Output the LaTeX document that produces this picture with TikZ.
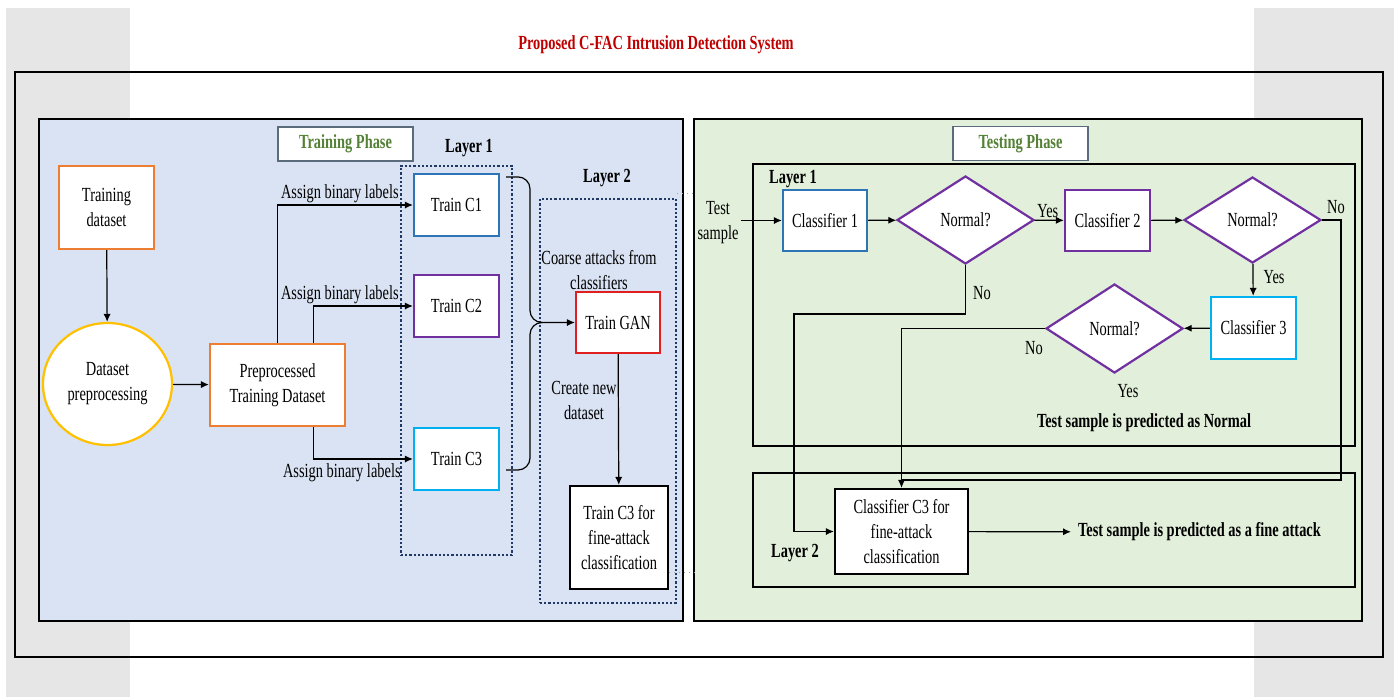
\documentclass[tikz,border=0pt]{standalone}
\usepackage{fontspec}
\setmainfont{Liberation Serif}[FakeStretch=0.72]
\usetikzlibrary{arrows.meta,positioning,shapes.geometric}
\definecolor{cgray}{HTML}{E6E6E6}
\definecolor{cblue}{HTML}{DAE3F3}
\definecolor{cgreen}{HTML}{E2EFDA}
\definecolor{ctitle}{HTML}{C00000}
\definecolor{cgrn}{HTML}{538135}
\definecolor{cphb}{HTML}{5B6B7B}
\definecolor{corange}{HTML}{ED7D31}
\definecolor{cyel}{HTML}{FFC000}
\definecolor{cbl}{HTML}{2E75B6}
\definecolor{cpur}{HTML}{7030A0}
\definecolor{ccyan}{HTML}{00B0F0}
\definecolor{cred}{HTML}{E02020}
\definecolor{cdot}{HTML}{1F3864}
\definecolor{cgl}{HTML}{A0A0A0}

\begin{document}
\begin{tikzpicture}[x=0.5pt,y=-0.5pt,
font=\fontsize{10}{12.5}\selectfont,
box/.style={draw,fill=white,line width=1.1pt,align=center,inner sep=1pt},
arr/.style={-{Latex[length=4pt,width=3.6pt]},line width=0.6pt},
lab/.style={align=center,inner sep=1pt},
dia/.style={diamond,draw=cpur,fill=white,line width=1.1pt,inner sep=0pt,minimum width=68.5pt},
grp/.style={draw=cdot,densely dotted,line width=1.1pt},
frm/.style={draw,line width=1.3pt},
phase/.style={draw=cphb,fill=white,line width=0.6pt,font=\bfseries,text=cgrn,minimum width=67.5pt,minimum height=17pt},
lay/.style={font=\bfseries}]
\useasboundingbox (0,0) rectangle (1394,697);
% page and panels
\fill[cgray] (6,8) rectangle (130,697);
\fill[cgray] (1254,8) rectangle (1394,697);
\draw[line width=1.3pt] (15,72) rectangle (1383,657);
\node[font=\bfseries,text=ctitle] (title) at (656,45) {Proposed C-FAC Intrusion Detection System};
\draw[line width=1.1pt,fill=cblue] (39,119) rectangle (683,621);
\draw[line width=1.1pt,fill=cgreen] (694,119) rectangle (1362,621);

% training phase
\node[phase] (trph) at (345.5,144) {Training Phase};
\node[box,draw=corange,minimum width=47.5pt,minimum height=41.5pt] (tdata) at (106.5,207.5) {Training\\dataset};
\node[box,ellipse,draw=cyel,minimum width=64.5pt,minimum height=61pt] (prep) at (107.5,384) {Dataset\\preprocessing};
\node[box,draw=corange,minimum width=67.5pt,minimum height=41pt] (ptd) at (277.5,385) {Preprocessed\\Training Dataset};
\node[grp,minimum width=55.5pt,minimum height=194.5pt] (l1grp) at (456.5,360.5) {};
\node[lay] (l1lab) at (469,148) {Layer 1};
\node[box,draw=cbl,minimum width=42.5pt,minimum height=31pt] (c1) at (456.5,205) {Train C1};
\node[box,draw=cpur,minimum width=42.5pt,minimum height=31pt] (c2) at (456.5,306) {Train C2};
\node[box,draw=ccyan,minimum width=42.5pt,minimum height=31pt] (c3) at (456.5,459) {Train C3};
\node[grp,minimum width=68pt,minimum height=202pt] (l2grp) at (608,401) {};
\node[lay] (l2lab) at (607,178) {Layer 2};
\node[lab] (coarse) at (599,270) {Coarse attacks from\\classifiers};
\node[box,draw=cred,minimum width=42pt,minimum height=30.5pt] (gan) at (618,322.5) {Train GAN};
\node[lab] (newds) at (584,400) {Create new\\dataset};
\node[box,minimum width=49pt,minimum height=51.5pt] (fine) at (619,537.5) {Train C3 for\\fine-attack\\classification};
\node[lab,anchor=south east] (as1) at (401,205) {Assign binary labels};
\node[lab,anchor=south east] (as2) at (401,306) {Assign binary labels};
\node[lab,anchor=north east] (as3) at (403,461) {Assign binary labels};
\draw[arr] (tdata) -- (prep);
\draw[arr] (prep) -- (ptd);
\draw[arr] (ptd.north) |- (c1.west);
\draw[arr] ([xshift=18pt]ptd.north) |- (c2.west);
\draw[arr] ([xshift=18pt]ptd.south) |- (c3.west);
\coordinate (jn) at (530,322.5);
\draw[arr,rounded corners=6pt] ([shift={(6,4)}]c1.north east) -| (jn) -- (gan.west);
\draw[line width=0.6pt,rounded corners=6pt] ([shift={(6,11)}]c3.east) -| (jn) -- ++(12,0);
\draw[arr] (gan) -- (fine);
\draw[cgl,dotted,line width=0.5pt] (l2grp.east |- 0,193) -- ++(18,0);
\draw[cgl,dotted,line width=0.5pt] (fine.east |- 0,572) -- ++(27,0);

% testing phase
\node[phase] (tsph) at (1020.5,143.5) {Testing Phase};
\node[frm,minimum width=301pt,minimum height=141pt] (tl1) at (1054,305) {};
\node[frm,minimum width=301pt,minimum height=57pt] (tl2) at (1054,530) {};
\node[lay] (tl1lab) at (793,179) {Layer 1};
\node[lay] (tl2lab) at (795,553) {Layer 2};
\node[lab] (tsamp) at (718,223) {Test\\sample};
\node[box,draw=cbl,minimum width=42pt,minimum height=30.5pt] (cl1) at (825,220.5) {Classifier 1};
\node[dia,minimum height=44pt] (d1) at (965.5,220) {Normal?};
\node[box,draw=cpur,minimum width=42.5pt,minimum height=30.5pt] (cl2) at (1107.5,220.5) {Classifier 2};
\node[dia,minimum height=43pt] (d2) at (1252.5,220) {Normal?};
\node[box,draw=ccyan,minimum width=42.5pt,minimum height=31pt] (cl3) at (1253.5,328) {Classifier 3};
\node[dia,minimum height=44.5pt] (d3) at (1114.5,328.5) {Normal?};
\node[lay] (nrm) at (1144,423) {Test sample is predicted as Normal};
\node[box,minimum width=66.5pt,minimum height=42.5pt] (cfine) at (901.5,531.5) {Classifier C3 for\\fine-attack\\classification};
\node[lay,anchor=west] (fatk) at (1071,532) {Test sample is predicted as a fine attack};
\draw[arr] (tsamp.east |- cl1.west) -- (cl1.west);
\draw[arr] (cl1) -- (d1);
\draw[arr] (d1) -- (cl2) node[lab,pos=.45,above] (y1) {Yes};
\draw[arr] (cl2) -- (d2);
\draw[arr] (d2) -- (cl3) node[lab,pos=.4,right=4pt] (y2) {Yes};
\draw[arr] (cl3) -- (d3);
\coordinate (n1) at (794,314);
\draw[arr] (d1.south) |- (n1) |- (cfine.west);
\draw[arr] (d3.west) -| (cfine.north);
\coordinate (n2) at (1341,480);
\draw[line width=0.6pt] (d2.east) -| (n2) -- (n2 -| cfine.north);
\node[lab] (no1) at (982,293) {No};
\node[lab] (no2) at (1336,207) {No};
\node[lab] (no3) at (1034,348) {No};
\node[lab] (y3) at (1128,391) {Yes};
\draw[arr] (cfine) -- (fatk);
\end{tikzpicture}
\end{document}
